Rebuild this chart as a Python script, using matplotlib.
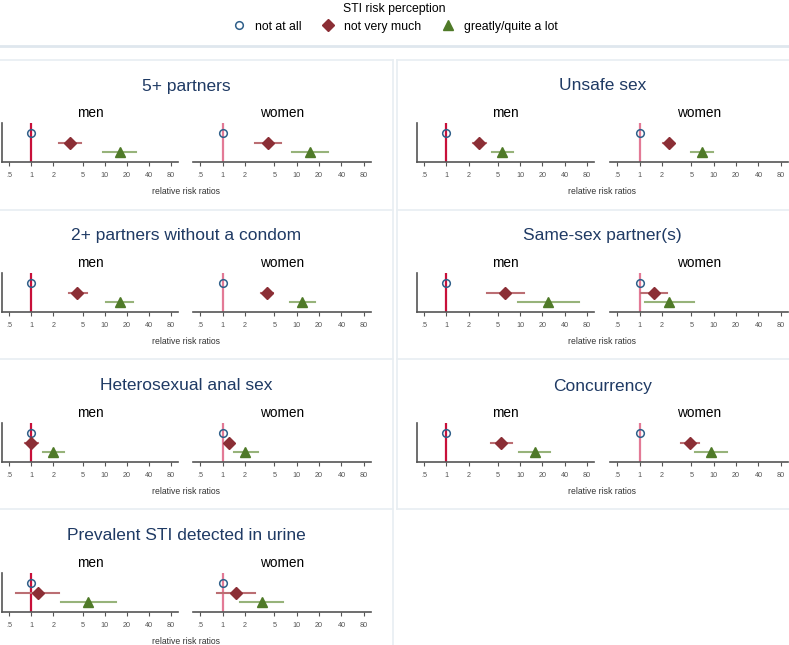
import numpy as np
import matplotlib.pyplot as plt
from matplotlib.lines import Line2D

plt.rcParams['font.family'] = ['Liberation Sans', 'DejaVu Sans']

# panels in reading order (left col, right col)
outcomes = ['5+ partners', 'Unsafe sex',
            '2+ partners without a condom', 'Same-sex partner(s)',
            'Heterosexual anal sex', 'Concurrency',
            'Prevalent STI detected in urine']
sexes = ['men', 'women']
levels = ['not at all', 'not very much', 'greatly/quite a lot']

# relative risk ratios vs "not at all": [men, women] for each outcome
rr_mid = [[3.35, 4.1], [2.8, 2.46],
          [4.27, 3.96], [6.3, 1.59],
          [1.0, 1.22], [5.55, 4.77],
          [1.23, 1.52]]
rr_mid_lo = [[2.37, 2.74], [2.27, 2.1],
             [3.25, 3.25], [3.52, 1.06],
             [0.83, 1.1], [4.0, 3.63],
             [0.62, 0.84]]
rr_mid_hi = [[4.84, 6.2], [3.48, 2.9],
             [5.73, 4.79], [11.1, 2.36],
             [1.25, 1.36], [7.8, 6.4],
             [2.42, 2.72]]

rr_high = [[16.0, 14.9], [5.7, 6.96],
           [16.2, 11.9], [24.0, 2.52],
           [1.98, 2.02], [15.8, 9.04],
           [6.0, 3.42]]
rr_high_lo = [[9.5, 8.6], [4.12, 4.92],
              [10.6, 8.1], [9.2, 1.17],
              [1.43, 1.42], [9.7, 5.52],
              [2.58, 1.73]]
rr_high_hi = [[26.9, 26.3], [7.97, 9.84],
              [24.7, 17.8], [63.6, 5.47],
              [2.77, 2.98], [25.5, 15.3],
              [14.2, 6.6]]

xticks = [0.5, 1, 2, 5, 10, 20, 40, 80]
xticklabels = ['.5', '1', '2', '5', '10', '20', '40', '80']

c_ref = ['#c8103a', '#e37a96']
c_none = '#2f5f8a'
c_mid, c_mid_ci = '#8b2e35', '#bb6e73'
c_high, c_high_ci = '#4f7a28', '#97b37a'
c_title = '#1f3a64'
c_frame = '#e8eef2'

W, H = 789, 645
fig = plt.figure(figsize=(W / 100, H / 100), dpi=100)


def fx(x):
    return x / W


def fy(y):
    return 1 - y / H


# panel frames
frame = fig.add_axes([0, 0, 1, 1])
frame.set_xlim(0, W)
frame.set_ylim(H, 0)
frame.axis('off')
frame.add_line(Line2D([0, W], [46, 46], color='#dfe7ee', lw=2))
for yy in [60, 210, 359, 509]:
    frame.add_line(Line2D([0, 393], [yy, yy], color=c_frame, lw=1.2))
for yy in [60, 210, 359, 509]:
    frame.add_line(Line2D([397, W], [yy, yy], color=c_frame, lw=1.2))
frame.add_line(Line2D([393, 393], [60, H], color=c_frame, lw=1.2))
frame.add_line(Line2D([397, 397], [60, 509], color=c_frame, lw=1.2))

col_x = [[(2, 178), (193, 371)], [(417, 594), (610, 788)]]
row_top = [123, 273, 423, 573]
ax_h = 39

for k, name in enumerate(outcomes):
    row, col = k // 2, k % 2
    top = row_top[row]
    bot = top + ax_h
    for s, sex in enumerate(sexes):
        x0, x1 = col_x[col][s]
        ax = fig.add_axes([fx(x0), fy(bot), fx(x1 - x0), ax_h / H])
        ax.set_xscale('log')
        ax.set_xlim(0.4, 100)
        ax.set_ylim(0, 4)
        ax.axvline(1, color=c_ref[s], lw=1.6, zorder=1)
        ax.plot([1], [3], 'o', ms=5.5, mfc='none', mec=c_none, mew=1.1, zorder=3)
        ax.plot([rr_mid_lo[k][s], rr_mid_hi[k][s]], [2, 2], color=c_mid_ci, lw=1.5, zorder=2)
        ax.plot([rr_mid[k][s]], [2], 'D', ms=6.5, color=c_mid, zorder=3)
        ax.plot([rr_high_lo[k][s], rr_high_hi[k][s]], [1, 1], color=c_high_ci, lw=1.5, zorder=2)
        ax.plot([rr_high[k][s]], [1], '^', ms=7, color=c_high, zorder=3)
        ax.set_xticks(xticks)
        ax.set_xticklabels(xticklabels)
        ax.xaxis.set_minor_locator(plt.NullLocator())
        ax.tick_params(axis='x', labelsize=5.2, colors='#555555', length=3, width=0.8, pad=4)
        ax.set_yticks([])
        for sp in ['top', 'right']:
            ax.spines[sp].set_visible(False)
        ax.spines['bottom'].set_color('#555555')
        ax.spines['bottom'].set_linewidth(1.2)
        if s == 0:
            ax.spines['left'].set_color('#555555')
            ax.spines['left'].set_linewidth(1.2)
        else:
            ax.spines['left'].set_visible(False)
        ax.patch.set_alpha(0)
        fig.text(fx((x0 + x1) / 2), fy(top - 10), sex, ha='center', va='center',
                 fontsize=9.8, color='black')
    cx = (col_x[col][0][0] + col_x[col][1][1]) / 2
    fig.text(fx(cx), fy(top - 37), name, ha='center', va='center',
             fontsize=12.5, color=c_title)
    fig.text(fx(cx), fy(bot + 29), 'relative risk ratios', ha='center', va='center',
             fontsize=6.2, color='#333333')

handles = [Line2D([], [], ls='none', marker='o', ms=5.5, mfc='none', mec=c_none, mew=1.1),
           Line2D([], [], ls='none', marker='D', ms=6.5, color=c_mid),
           Line2D([], [], ls='none', marker='^', ms=7, color=c_high)]
leg = fig.legend(handles, levels, loc='upper center', bbox_to_anchor=(0.5, 1.003),
                 ncol=3, frameon=False, title='STI risk perception', fontsize=8.8,
                 title_fontsize=8.8, handletextpad=0.7, columnspacing=1.6,
                 handlelength=1.2, borderaxespad=0, labelspacing=0.2)
leg._legend_box.sep = 4

fig.savefig('out.png', dpi=100)
